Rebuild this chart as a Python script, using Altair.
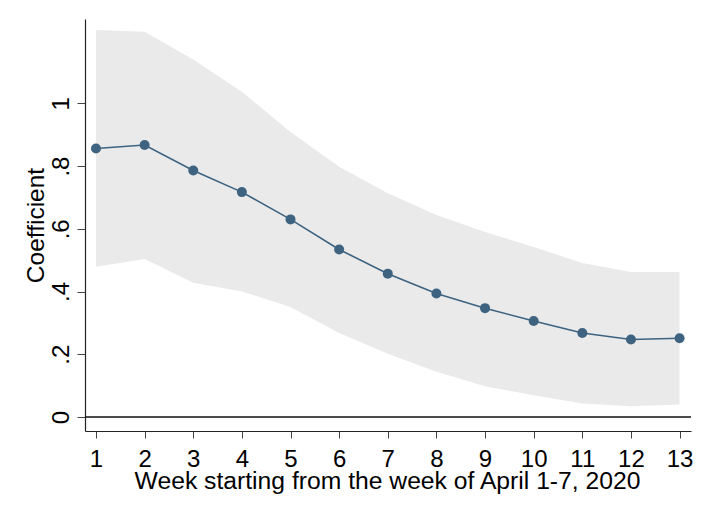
import altair as alt
import pandas as pd

weeks = list(range(1, 14))
coef = [0.856, 0.867, 0.786, 0.717, 0.630, 0.534, 0.457, 0.394, 0.347, 0.306, 0.268, 0.247, 0.251]
lower = [0.479, 0.504, 0.428, 0.400, 0.351, 0.268, 0.202, 0.144, 0.098, 0.069, 0.043, 0.034, 0.040]
upper = [1.234, 1.228, 1.140, 1.037, 0.909, 0.798, 0.713, 0.644, 0.590, 0.542, 0.491, 0.462, 0.462]
y_ticks = [0, 0.2, 0.4, 0.6, 0.8, 1.0]

df = pd.DataFrame({"week": weeks, "coef": coef, "lower": lower, "upper": upper})

FONT = "Liberation Sans"
LINE_COLOR = "#3d6381"

xscale = alt.Scale(domain=[0.774, 13.235], nice=False, zero=False)
yscale = alt.Scale(domain=[-0.0447, 1.269], nice=False, zero=False)

xaxis = alt.Axis(
    values=weeks, title="Week starting from the week of April 1-7, 2020",
    grid=False, tickSize=7, tickColor="#444", domainColor="#222", domainWidth=1.2,
    labelFontSize=24, labelFont=FONT, labelColor="#000", labelBaseline="alphabetic",
    labelPadding=28, labelFlush=False, labelOverlap=False,
    titleFontSize=24.7, titleFont=FONT, titleFontWeight="normal", titleColor="#000",
    titleBaseline="alphabetic", titleY=57.6, titleX=302, titleAlign="center",
)
yaxis = alt.Axis(
    values=y_ticks, title="Coefficient",
    labelExpr="datum.value == 0 ? '0' : (datum.value == 1 ? '1' : replace(format(datum.value, '.1f'), '0.', '.'))",
    grid=False, tickSize=8, tickColor="#444", domainColor="#222", domainWidth=1.2,
    labelFontSize=24, labelFont=FONT, labelColor="#000", labelAngle=270,
    labelAlign="center", labelBaseline="alphabetic", labelPadding=8.7, labelFlush=False,
    labelOverlap=False,
    titleFontSize=24.5, titleFont=FONT, titleFontWeight="normal", titleColor="#000",
    titleAngle=270, titleBaseline="alphabetic", titleAlign="center", titleX=-41.7, titleY=206,
)

base = alt.Chart(df)

band = base.mark_area(color="#eaeaea", opacity=1).encode(
    x=alt.X("week:Q", scale=xscale, axis=xaxis),
    y=alt.Y("lower:Q", scale=yscale, axis=yaxis),
    y2="upper:Q",
)

zero = alt.Chart(pd.DataFrame({"z": [0]})).mark_rule(color="#111", strokeWidth=1.4).encode(
    y=alt.Y("z:Q", scale=yscale),
)

line = base.mark_line(color=LINE_COLOR, strokeWidth=1.6).encode(
    x=alt.X("week:Q", scale=xscale),
    y=alt.Y("coef:Q", scale=yscale),
)

pts = base.mark_circle(color=LINE_COLOR, opacity=1, size=100).encode(
    x=alt.X("week:Q", scale=xscale),
    y=alt.Y("coef:Q", scale=yscale),
)

chart = alt.layer(band, zero, line, pts).properties(
    width=606, height=412,
    autosize=alt.AutoSizeParams(type="none"),
    padding={"left": 77, "top": 11, "right": 10, "bottom": 70},
    background="white",
).configure_view(stroke=None)

chart.save("out.html", embed_options={"renderer": "svg", "actions": False})
